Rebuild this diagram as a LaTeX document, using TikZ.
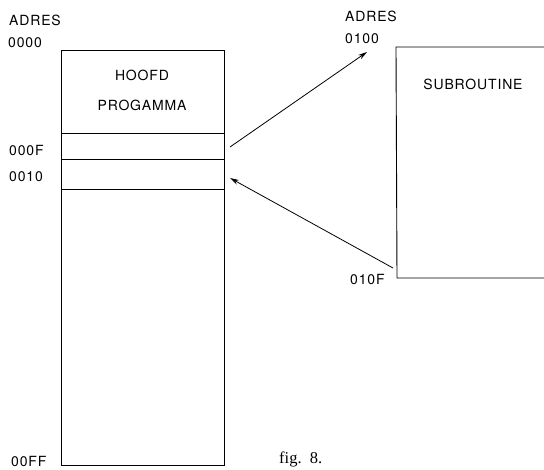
\documentclass[tikz,border=0pt]{standalone}
\usepackage{fontspec}
\setmainfont{Liberation Serif}
\newfontfamily\techfont[LetterSpace=6]{TeX Gyre Heros}
\usetikzlibrary{arrows.meta}
\begin{document}
\begin{tikzpicture}[x=1pt,y=-1pt,
  lbl/.style={font=\techfont\fontsize{14}{16}\selectfont, inner sep=0pt, anchor=west},
  ctr/.style={font=\techfont\fontsize{14}{16}\selectfont, inner sep=0pt},
  ln/.style={line width=0.9pt},
  arr/.style={line width=0.8pt, -{Stealth[length=9pt,width=5pt]}}]
\useasboundingbox (0,0) rectangle (544,469);
% main memory box
\node[ln, draw, minimum width=163pt, minimum height=415pt, inner sep=0pt, anchor=north west] (mem) at (61,50) {};
\node[inner sep=0pt, minimum width=163pt, minimum height=26pt, anchor=north west] (slotF) at (61,133) {};
\node[inner sep=0pt, minimum width=163pt, minimum height=30pt, anchor=north west] (slot10) at (61,159) {};
\draw[ln] (slotF.north west) -- (slotF.north east);
\draw[ln] (slot10.north west) -- (slot10.north east);
\draw[ln] (slot10.south west) -- (slot10.south east);
\node[ctr] (hoofd) at (142,75) {HOOFD};
\node[ctr] (prog) at (142,105) {PROGAMMA};
% left labels
\node[lbl] (adres1) at (9,20) {ADRES};
\node[lbl] (a0000) at (8,43) {0000};
\node[lbl] (a000F) at (9,150) {000F};
\node[lbl] (a0010) at (9,177) {0010};
\node[lbl] (a00FF) at (11,461) {00FF};
% subroutine box (right side open, runs off the page)
\coordinate (subTL) at (396,47);
\coordinate (subBL) at (397,278);
\draw[ln] (548,47) -- (subTL) -- (subBL) -- (548,278);
\node[ctr] (sub) at (473,84) {SUBROUTINE};
\node[lbl] (adres2) at (345,16) {ADRES};
\node[lbl] (a0100) at (345,39) {0100};
\node[lbl] (a010F) at (350,279) {010F};
% arrows
\coordinate (callStart) at (230,147);
\coordinate (callEnd) at (367,52);
\coordinate (retStart) at (393,268);
\coordinate (retEnd) at (230,178);
\draw[arr] (callStart) -- (callEnd);
\draw[arr] (retStart) -- (retEnd);
% caption
\node[font=\fontsize{16.5}{18}\selectfont, inner sep=0pt, anchor=west] (cap) at (279,459) {fig.\ \ 8.};
\end{tikzpicture}
\end{document}
